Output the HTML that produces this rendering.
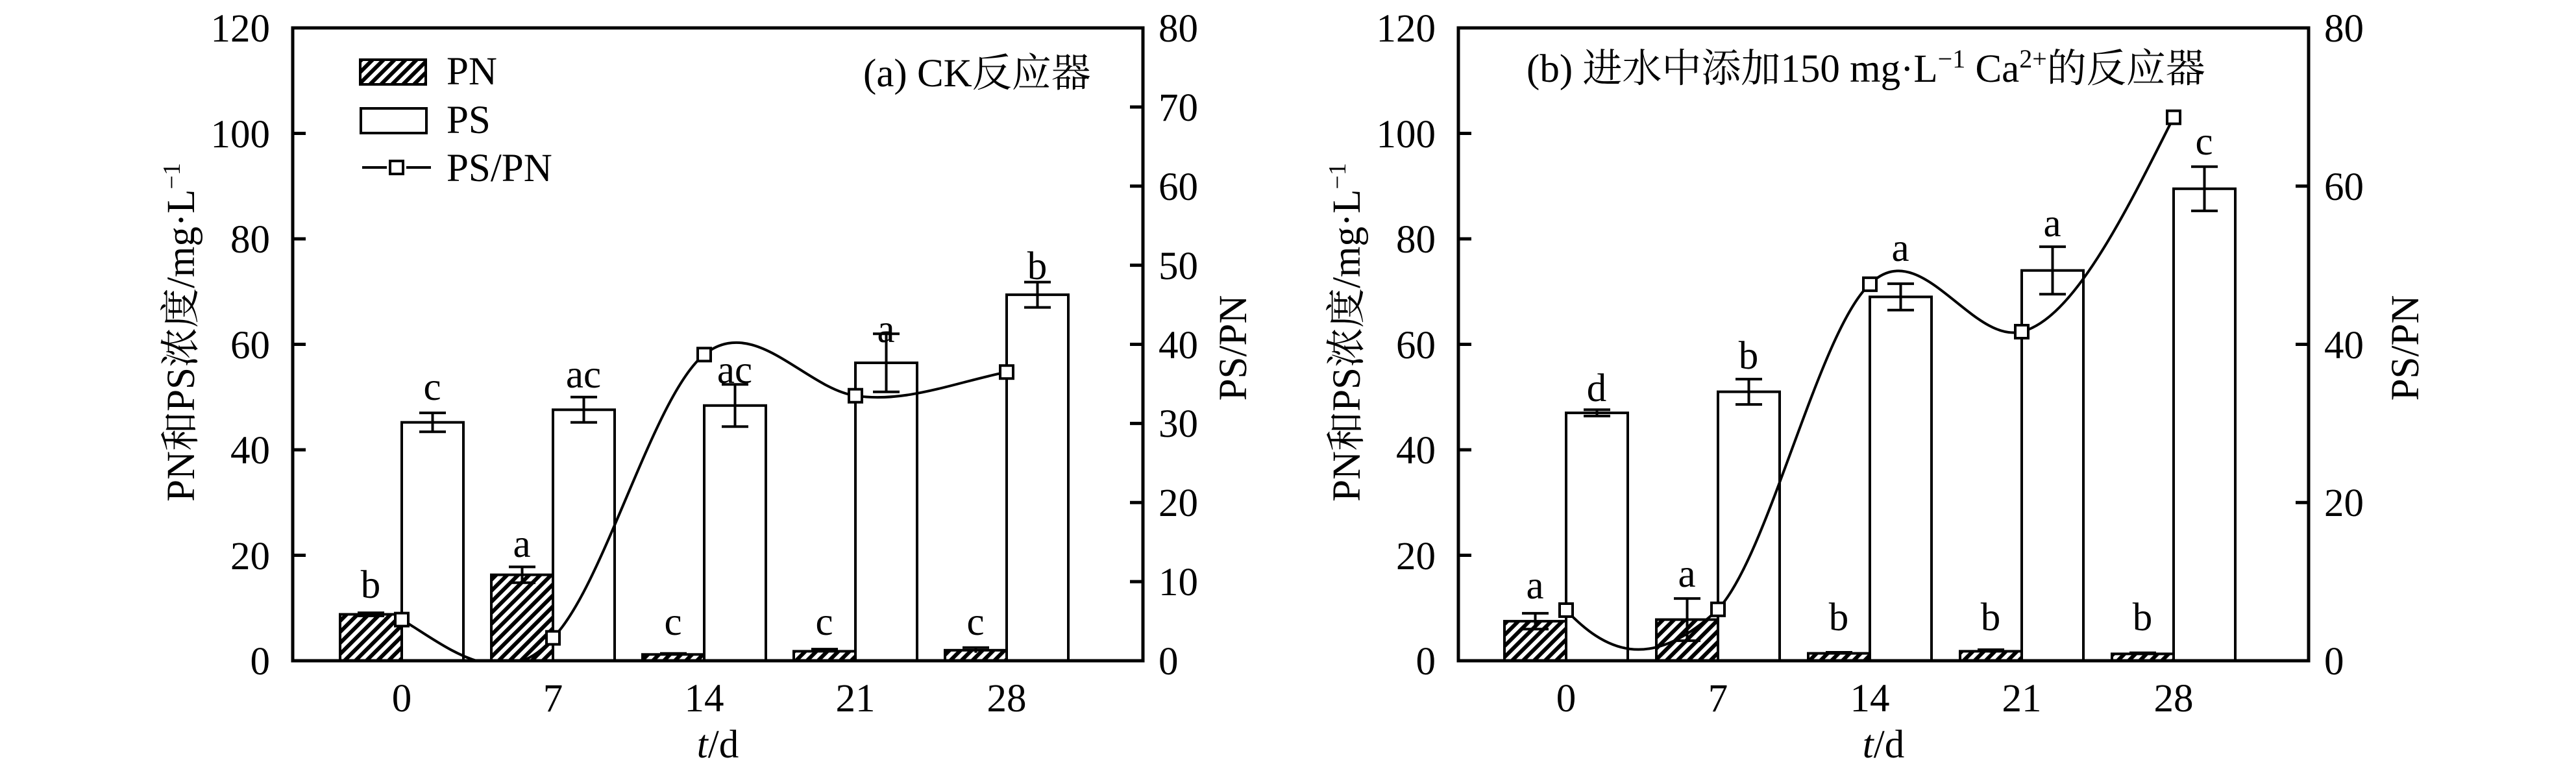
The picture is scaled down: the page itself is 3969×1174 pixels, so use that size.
<!DOCTYPE html>
<html><head><meta charset="utf-8"><style>
html,body{margin:0;padding:0;background:#fff;}
svg{display:block;}
text{font-family:"Liberation Serif","Noto Serif CJK SC","Noto Sans CJK SC",serif;font-size:61px;fill:#000;}
</style></head><body>
<svg width="3969" height="1174" viewBox="0 0 3969 1174" xmlns="http://www.w3.org/2000/svg">
<defs>
<pattern id="h" patternUnits="userSpaceOnUse" width="12" height="12" patternTransform="rotate(45)">
<rect width="12" height="12" fill="#fff"/><rect width="6" height="12" fill="#000"/>
</pattern>
<clipPath id="ca"><rect x="451" y="43" width="1310" height="975"/></clipPath>
<clipPath id="cb"><rect x="2247" y="43" width="1310" height="975"/></clipPath>
</defs>

<!-- ================= Panel A ================= -->
<g stroke="#000" stroke-width="4" fill="none">
<rect x="524" y="946.5" width="95" height="71.5" fill="url(#h)"/>
<rect x="757" y="885.6" width="95" height="132.4" fill="url(#h)"/>
<rect x="990" y="1008.3" width="95" height="9.7" fill="url(#h)"/>
<rect x="1223" y="1003.4" width="95" height="14.6" fill="url(#h)"/>
<rect x="1456" y="1001.8" width="95" height="16.2" fill="url(#h)"/>
<rect x="619" y="650.7" width="95" height="367.3" fill="#fff"/>
<rect x="852" y="631.3" width="95" height="386.7" fill="#fff"/>
<rect x="1085" y="624.8" width="95" height="393.2" fill="#fff"/>
<rect x="1318" y="559" width="95" height="459" fill="#fff"/>
<rect x="1551" y="454.1" width="95" height="563.9" fill="#fff"/>
<path d="M666.5 636.1V665.3M646 636.1H687M646 665.3H687"/>
<path d="M899.5 611.8V650.8M879 611.8H920M879 650.8H920"/>
<path d="M1132.5 592.3V657.3M1112 592.3H1153M1112 657.3H1153"/>
<path d="M1365.5 514.3V603.7M1345 514.3H1386M1345 603.7H1386"/>
<path d="M1598.5 434.6V473.6M1578 434.6H1619M1578 473.6H1619"/>
<path d="M571.5 944.1V948.9M551 944.1H592M551 948.9H592"/>
<path d="M804.5 873.4V897.8M784 873.4H825M784 897.8H825"/>
<path d="M1037.5 1006.7V1009.9M1017 1006.7H1058"/>
<path d="M1270.5 1000.1V1006.7M1250 1000.1H1291"/>
<path d="M1503.5 997.8V1005.8M1483 997.8H1524"/>
</g>
<g clip-path="url(#ca)" stroke="#000" stroke-width="4" fill="none">
<path d="M619 954.6C680 990 774.3 1075 852 982.7C929.7 904.6 1007.3 608.5 1085 546.3C1162.7 484.1 1240.3 598 1318 609.7C1395.7 621.4 1473.3 588.7 1551 573.2"/>
</g>
<g stroke="#000" stroke-width="4" fill="#fff">
<rect x="609" y="944.6" width="20" height="20"/>
<rect x="842" y="972.7" width="20" height="20"/>
<rect x="1075" y="536.3" width="20" height="20"/>
<rect x="1308" y="599.7" width="20" height="20"/>
<rect x="1541" y="563.2" width="20" height="20"/>
</g>
<rect x="451" y="43" width="1310" height="975" fill="none" stroke="#000" stroke-width="5"/>
<g stroke="#000" stroke-width="5">
<path d="M451 855.5H471M451 693H471M451 530.5H471M451 368H471M451 205.5H471"/>
<path d="M1761 896.1H1741M1761 774.3H1741M1761 652.4H1741M1761 530.5H1741M1761 408.6H1741M1761 286.8H1741M1761 164.9H1741"/>
</g>
<g text-anchor="end">
<text x="416" y="1039">0</text><text x="416" y="877">20</text><text x="416" y="714">40</text><text x="416" y="552">60</text><text x="416" y="389">80</text><text x="416" y="227">100</text><text x="416" y="64">120</text>
</g>
<g text-anchor="start">
<text x="1785" y="1039">0</text><text x="1785" y="917">10</text><text x="1785" y="795">20</text><text x="1785" y="673">30</text><text x="1785" y="552">40</text><text x="1785" y="430">50</text><text x="1785" y="308">60</text><text x="1785" y="186">70</text><text x="1785" y="64">80</text>
</g>
<g text-anchor="middle">
<text x="619" y="1096">0</text><text x="852" y="1096">7</text><text x="1085" y="1096">14</text><text x="1318" y="1096">21</text><text x="1551" y="1096">28</text>
<text x="1106" y="1167"><tspan font-style="italic">t</tspan>/d</text>
<text x="666" y="616">c</text><text x="899" y="597">ac</text><text x="1132" y="590">ac</text><text x="1365" y="527">a</text><text x="1598" y="430">b</text>
<text x="571" y="921">b</text><text x="804" y="858">a</text><text x="1037" y="978">c</text><text x="1270" y="978">c</text><text x="1503" y="978">c</text>
</g>
<text transform="translate(299,512) rotate(-90)" text-anchor="middle" font-size="58">PN和PS浓度/mg·L<tspan font-size="38" dy="-22">−1</tspan></text>
<text transform="translate(1920,536) rotate(-90)" text-anchor="middle">PS/PN</text>
<text x="1330" y="133">(a) CK反应器</text>
<rect x="555" y="92" width="101" height="38" fill="url(#h)" stroke="#000" stroke-width="4"/>
<rect x="556" y="167" width="101" height="38" fill="#fff" stroke="#000" stroke-width="4"/>
<path d="M558 258H596M626 258H664" stroke="#000" stroke-width="4"/>
<rect x="601" y="248" width="20" height="20" fill="#fff" stroke="#000" stroke-width="4"/>
<text x="688" y="130">PN</text>
<text x="688" y="205">PS</text>
<text x="688" y="279">PS/PN</text>

<!-- ================= Panel B ================= -->
<g stroke="#000" stroke-width="4" fill="none">
<rect x="2318" y="957.1" width="95" height="60.9" fill="url(#h)"/>
<rect x="2552" y="954.6" width="95" height="63.4" fill="url(#h)"/>
<rect x="2786" y="1006.6" width="95" height="11.4" fill="url(#h)"/>
<rect x="3020" y="1003.4" width="95" height="14.6" fill="url(#h)"/>
<rect x="3254" y="1007.4" width="95" height="10.6" fill="url(#h)"/>
<rect x="2413" y="636.1" width="95" height="381.9" fill="#fff"/>
<rect x="2647" y="603.6" width="95" height="414.4" fill="#fff"/>
<rect x="2881" y="457.4" width="95" height="560.6" fill="#fff"/>
<rect x="3115" y="416.7" width="95" height="601.3" fill="#fff"/>
<rect x="3349" y="290.8" width="95" height="727.2" fill="#fff"/>
<path d="M2460.5 631.2V641M2440 631.2H2481M2440 641H2481"/>
<path d="M2694.5 584.1V623.1M2674 584.1H2715M2674 623.1H2715"/>
<path d="M2928.5 437.1V477.7M2908 437.1H2949M2908 477.7H2949"/>
<path d="M3162.5 380.1V453.3M3142 380.1H3183M3142 453.3H3183"/>
<path d="M3396.5 256.7V324.9M3376 256.7H3417M3376 324.9H3417"/>
<path d="M2365.5 944.9V969.3M2345 944.9H2386M2345 969.3H2386"/>
<path d="M2599.5 922.1V987.1M2579 922.1H2620M2579 987.1H2620"/>
<path d="M2833.5 1005V1008.2M2813 1005H2854"/>
<path d="M3067.5 1001V1005.8M3047 1001H3088"/>
<path d="M3301.5 1005.8V1009M3281 1005.8H3322"/>
</g>
<g clip-path="url(#cb)" stroke="#000" stroke-width="4" fill="none">
<path d="M2413 940C2470 1000 2540 1040 2647 938.8C2725 855.3 2803 509.2 2881 437.9C2959 360 3037 530.5 3115 511C3193 491.5 3271 336.7 3349 180.7"/>
</g>
<g stroke="#000" stroke-width="4" fill="#fff">
<rect x="2403" y="930" width="20" height="20"/>
<rect x="2637" y="928.8" width="20" height="20"/>
<rect x="2871" y="427.9" width="20" height="20"/>
<rect x="3105" y="501" width="20" height="20"/>
<rect x="3339" y="170.7" width="20" height="20"/>
</g>
<rect x="2247" y="43" width="1310" height="975" fill="none" stroke="#000" stroke-width="5"/>
<g stroke="#000" stroke-width="5">
<path d="M2247 855.5H2267M2247 693H2267M2247 530.5H2267M2247 368H2267M2247 205.5H2267"/>
<path d="M3557 774.3H3537M3557 530.5H3537M3557 286.8H3537"/>
</g>
<g text-anchor="end">
<text x="2212" y="1039">0</text><text x="2212" y="877">20</text><text x="2212" y="714">40</text><text x="2212" y="552">60</text><text x="2212" y="389">80</text><text x="2212" y="227">100</text><text x="2212" y="64">120</text>
</g>
<g text-anchor="start">
<text x="3581" y="1039">0</text><text x="3581" y="795">20</text><text x="3581" y="552">40</text><text x="3581" y="308">60</text><text x="3581" y="64">80</text>
</g>
<g text-anchor="middle">
<text x="2413" y="1096">0</text><text x="2647" y="1096">7</text><text x="2881" y="1096">14</text><text x="3115" y="1096">21</text><text x="3349" y="1096">28</text>
<text x="2902" y="1167"><tspan font-style="italic">t</tspan>/d</text>
<text x="2460" y="618">d</text><text x="2694" y="568">b</text><text x="2928" y="402">a</text><text x="3162" y="364">a</text><text x="3396" y="238">c</text>
<text x="2365" y="922">a</text><text x="2599" y="904">a</text><text x="2833" y="971">b</text><text x="3067" y="971">b</text><text x="3301" y="971">b</text>
</g>
<text transform="translate(2095,512) rotate(-90)" text-anchor="middle" font-size="58">PN和PS浓度/mg·L<tspan font-size="38" dy="-22">−1</tspan></text>
<text transform="translate(3726,536) rotate(-90)" text-anchor="middle">PS/PN</text>
<text x="2352" y="126">(b) 进水中添加150 mg·L<tspan font-size="40" dy="-22">−1</tspan><tspan dy="22"> Ca</tspan><tspan font-size="40" dy="-22">2+</tspan><tspan dy="22">的反应器</tspan></text>
</svg>
</body></html>
